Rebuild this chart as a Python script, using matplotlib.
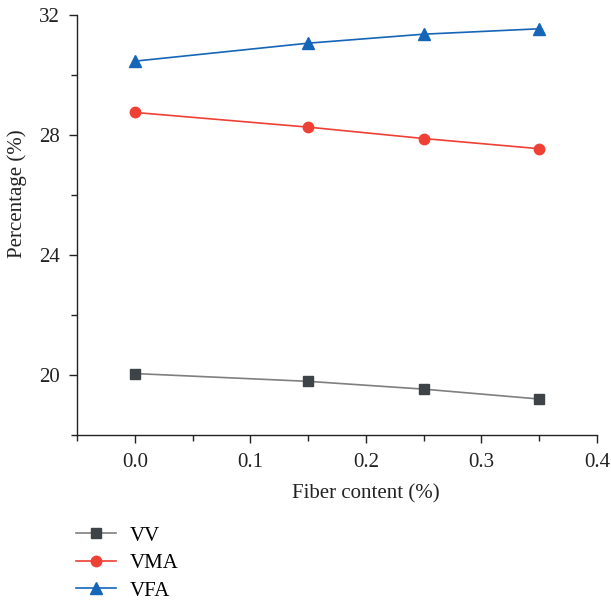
import matplotlib
matplotlib.use("Agg")
import matplotlib.pyplot as plt
from matplotlib.ticker import MultipleLocator

# données
fiber = [0.0, 0.15, 0.25, 0.35]
vv = [20.05, 19.79, 19.53, 19.20]
vma = [28.76, 28.27, 27.89, 27.55]
vfa = [30.47, 31.07, 31.37, 31.55]

plt.rcParams['font.family'] = ['Liberation Serif', 'DejaVu Serif']
plt.rcParams['font.size'] = 15

fig = plt.figure(figsize=(6.11, 6.00), dpi=100)
ax = fig.add_axes([0.126, 0.275, 0.851, 0.6995])

ax.plot(fiber, vv, color='#7f7f7f', lw=1.2, marker='s', ms=7.5,
        mfc='#3d4346', mec='#3d4346', label='VV')
ax.plot(fiber, vma, color='#ee4035', lw=1.2, marker='o', ms=7.5,
        mfc='#ee4035', mec='#ee4035', label='VMA')
ax.plot(fiber, vfa, color='#1565b8', lw=1.2, marker='^', ms=9,
        mfc='#1565b8', mec='#1565b8', label='VFA')

ax.set_xlim(-0.05, 0.4)
ax.set_ylim(18, 32)
ax.xaxis.set_major_locator(MultipleLocator(0.1))
ax.xaxis.set_minor_locator(MultipleLocator(0.05))
ax.yaxis.set_major_locator(MultipleLocator(4))
ax.yaxis.set_minor_locator(MultipleLocator(2))
ax.xaxis.set_major_formatter(plt.FuncFormatter(lambda v, p: f"{v:.1f}"))
ax.yaxis.set_major_formatter(plt.FuncFormatter(lambda v, p: f"{v:.0f}"))

for s in ['top', 'right']:
    ax.spines[s].set_visible(False)
for s in ['left', 'bottom']:
    ax.spines[s].set_linewidth(1.0)
    ax.spines[s].set_color('#222222')

ax.tick_params(which='major', direction='out', length=6, width=1.0, labelsize=15, colors='#222222')
ax.tick_params(which='minor', direction='out', length=4, width=1.0, colors='#222222')
ax.tick_params(axis='x', pad=7)
ax.tick_params(axis='y', pad=6.5)

ax.set_xlabel("Fiber content (%)", fontsize=15, color='#222222')
ax.set_ylabel("Percentage (%)", fontsize=15, color='#222222')
# les titres d'axes ne sont pas centrés sur l'axe dans l'original
ax.xaxis.set_label_coords(0.556, -0.117)
ax.yaxis.set_label_coords(-0.096, 0.574)

fig.legend(loc='upper left', bbox_to_anchor=(0.111, 0.137), frameon=False,
           fontsize=15, handlelength=1.9, labelspacing=0.38, handletextpad=0.65,
           borderaxespad=0)

fig.savefig("out.png", dpi=100)
